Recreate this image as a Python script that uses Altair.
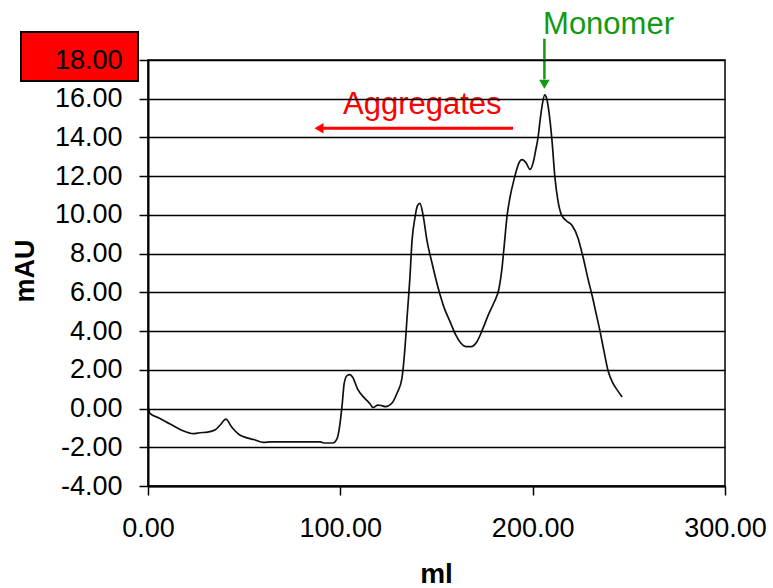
import altair as alt
import pandas as pd

# Chromatogram trace (ml, mAU)
ml = [0, 1, 6, 11.5, 17.5, 23.5, 27, 31, 35, 37.5, 40.5, 43.5, 47.5, 51, 55, 60, 64, 75,
      89.5, 92, 96, 98.3, 99.8, 101, 102, 103.5, 105, 106.5, 109, 112.5, 115.4, 117,
      119.5, 121.5, 123.5, 127, 129.5, 132, 133.5, 134.7, 136.2, 137.3, 138.8, 140,
      141.4, 143, 145, 147.7, 150.8, 154, 157, 160, 162.5, 165.5, 168, 171, 174, 177,
      180, 182.5, 184, 185, 186.7, 188.2, 190.5, 192.5, 194.5, 196.5, 198.6, 200.5,
      201.5, 202.8, 204, 205, 206.3, 207.3, 208.5, 210, 211.6, 213.2, 215, 217.5,
      220.5, 223.6, 226, 229, 231, 233, 235, 237, 239.2, 241.8, 244, 246.5]
mau = [0.1, -0.25, -0.5, -0.8, -1.12, -1.3, -1.25, -1.22, -1.1, -0.85, -0.55, -0.95,
       -1.35, -1.5, -1.6, -1.75, -1.72, -1.72, -1.72, -1.78, -1.78, -1.55, -0.8, 0.25,
       1.3, 1.7, 1.75, 1.6, 1.0, 0.55, 0.25, 0.05, 0.18, 0.15, 0.1, 0.3, 0.8, 1.55,
       3.0, 4.7, 6.8, 8.7, 9.85, 10.45, 10.6, 10.0, 8.7, 7.5, 6.25, 5.2, 4.5, 3.8, 3.4,
       3.2, 3.2, 3.45, 4.1, 4.85, 5.5, 6.2, 7.2, 8.2, 9.95, 10.9, 11.9, 12.6, 12.85,
       12.7, 12.35, 12.8, 13.3, 14.0, 15.0, 15.7, 16.2, 16.0, 15.3, 13.9, 11.9, 10.7,
       10.0, 9.7, 9.45, 8.8, 7.9, 6.6, 5.8, 4.9, 4.0, 3.0, 1.95, 1.3, 0.95, 0.6]

x_ticks = [0, 100, 200, 300]
y_ticks = [-4, -2, 0, 2, 4, 6, 8, 10, 12, 14, 16, 18]

# annotations
ann_text = ["Monomer", "Aggregates"]
ann_x = [205.4, 101.4]
ann_y = [19.33, 15.21]
ann_color = ["#129a12", "#ff0000"]

mono_arrow_x = [206.1]
mono_arrow_y = [19.1]
mono_arrow_y2 = [17.0]
mono_head_y = [16.75]

agg_arrow_x = [90.5]
agg_arrow_x2 = [189.8]
agg_arrow_y = [14.48]
agg_head_x = [88.9]

FONT = "Liberation Sans"
LABEL_EXPR = "replace(format(datum.value, '.2f'), '\u2212', '-')"

df = pd.DataFrame({"ml": ml, "mAU": mau})

xscale = alt.Scale(domain=[0, 300], nice=False, zero=False)
yscale = alt.Scale(domain=[-4, 18], nice=False, zero=False)

line = alt.Chart(df).mark_line(color="#111111", strokeWidth=1.7, interpolate="monotone").encode(
    x=alt.X("ml:Q", scale=xscale,
            axis=alt.Axis(title="ml", values=x_ticks, tickCount=20, labelExpr=LABEL_EXPR,
                          grid=False,
                          labelFontSize=27, labelFont=FONT, labelColor="black",
                          tickSize=9, tickColor="black", tickWidth=1.5,
                          domainColor="black", domainWidth=2, labelPadding=20,
                          labelFlush=False, labelOverlap=False,
                          titleFont=FONT, titleFontSize=28, titleFontWeight="bold",
                          titleColor="black", titleX=288, titleY=96,
                          titleBaseline="alphabetic", titleAlign="center",
                          zindex=1)),
    y=alt.Y("mAU:Q", scale=yscale,
            axis=alt.Axis(title="mAU", values=y_ticks, tickCount=30, labelExpr=LABEL_EXPR,
                          grid=True,
                          gridColor="black", gridWidth=1.5, gridOpacity=1,
                          labelFontSize=27, labelFont=FONT, labelColor="black",
                          tickSize=9, tickColor="black", tickWidth=1.5,
                          domainColor="black", domainWidth=2, labelPadding=17,
                          labelFlush=False, labelOverlap=False,
                          titleFont=FONT, titleFontSize=27, titleFontWeight="bold",
                          titleColor="black", titleX=-115, titleY=210.5, titleAngle=-90,
                          titleBaseline="alphabetic", titleAlign="center",
                          zindex=1)),
)

box = alt.Chart(pd.DataFrame({"a": [0]})).mark_rect(
    fill="#ff0000", stroke="black", strokeWidth=2
).encode(x=alt.value(-127), x2=alt.value(-10), y=alt.value(-28), y2=alt.value(21))

ann_df = pd.DataFrame({"t": ann_text, "x": ann_x, "y": ann_y, "c": ann_color})
texts = alt.Chart(ann_df).mark_text(font=FONT, fontSize=31, align="left",
                                    baseline="alphabetic").encode(
    x=alt.X("x:Q", scale=xscale), y=alt.Y("y:Q", scale=yscale),
    text="t:N", color=alt.Color("c:N", scale=None))

mono_line = alt.Chart(pd.DataFrame({"x": mono_arrow_x, "y": mono_arrow_y, "y2": mono_arrow_y2})
                      ).mark_rule(color="#129a12", strokeWidth=2.5).encode(
    x=alt.X("x:Q", scale=xscale), y=alt.Y("y:Q", scale=yscale), y2="y2:Q")
mono_head = alt.Chart(pd.DataFrame({"x": mono_arrow_x, "y": mono_head_y})).mark_point(
    shape="triangle-down", filled=True, color="#129a12", size=110, opacity=1).encode(
    x=alt.X("x:Q", scale=xscale), y=alt.Y("y:Q", scale=yscale))

agg_line = alt.Chart(pd.DataFrame({"x": agg_arrow_x, "x2": agg_arrow_x2, "y": agg_arrow_y})
                     ).mark_rule(color="#ff0000", strokeWidth=3).encode(
    x=alt.X("x:Q", scale=xscale), x2="x2:Q", y=alt.Y("y:Q", scale=yscale))
agg_head = alt.Chart(pd.DataFrame({"x": agg_head_x, "y": agg_arrow_y})).mark_point(
    shape="triangle-left", filled=True, color="#ff0000", size=110, opacity=1).encode(
    x=alt.X("x:Q", scale=xscale), y=alt.Y("y:Q", scale=yscale))

chart = alt.layer(box, line, mono_line, mono_head, agg_line, agg_head, texts).properties(
    width=577, height=426,
    autosize=alt.AutoSizeParams(type="none"),
    padding={"left": 148, "top": 60, "right": 48, "bottom": 102},
    background="white",
).configure_view(stroke="black", strokeWidth=1.5
).configure_axis(labelOverlap=False, labelFlush=False)

chart.save("out.html", embed_options={"renderer": "svg", "actions": False})
